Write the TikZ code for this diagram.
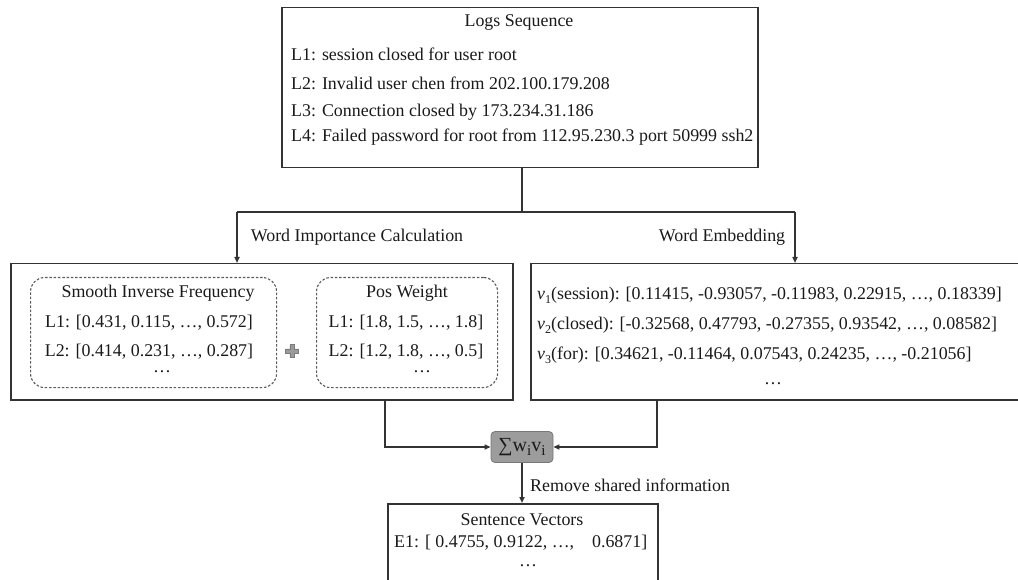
\documentclass[tikz,border=0pt]{standalone}
\usepackage{fontspec}
\setmainfont{Liberation Serif}
\usetikzlibrary{arrows.meta}
\definecolor{linec}{HTML}{333333}
\definecolor{textc}{HTML}{1A1A1A}
\definecolor{sumfill}{HTML}{9C9C9C}
\definecolor{sumline}{HTML}{777777}
\definecolor{plusc}{HTML}{9A9A9A}
\newcommand\lsub[1]{\raisebox{-0.45ex}{\fontsize{12}{12}\selectfont #1}}
\newcommand\isub[1]{\raisebox{-0.5ex}{\fontsize{15}{15}\selectfont #1}}
\begin{document}
\begin{tikzpicture}[x=1pt,y=-1pt,
  every node/.style={text=textc, font=\fontsize{17.9}{20}\selectfont, inner sep=0pt},
  panel/.style={draw=linec, line width=1.5pt, anchor=north west, fill=white},
  dashpanel/.style={draw=linec!80, line width=1.1pt, dash pattern=on 2.5pt off 1.8pt, rounded corners=14pt, anchor=north west},
  txt/.style={anchor=west},
  ctxt/.style={anchor=center},
  conn/.style={draw=linec, line width=1.5pt},
  arr/.style={conn, -{Triangle[length=6pt,width=5pt]}}]
\useasboundingbox (0,0) rectangle (1018,580);

% input logs
\node[panel, minimum width=476pt, minimum height=160pt] (logs) at (281,7) {};
\node[ctxt] (logt) at (519,23) {Logs Sequence};
\node[txt] (l1) at (291,54) {L1: session closed for user root};
\node[txt] (l2) at (291,83) {L2: Invalid user chen from 202.100.179.208};
\node[txt] (l3) at (291,112) {L3: Connection closed by 173.234.31.186};
\node[txt] (l4) at (291,137) {L4: Failed password for root from 112.95.230.3 port 50999 ssh2};

% word importance panel
\node[panel, minimum width=502pt, minimum height=136pt] (imp) at (10,263) {};
\node[dashpanel, minimum width=246pt, minimum height=110pt] (sif) at (30,277) {};
\node[ctxt] (sift) at (158,293) {Smooth Inverse Frequency};
\node[ctxt] (sif1) at (149,323) {L1: [0.431, 0.115, \dots, 0.572]};
\node[ctxt] (sif2) at (149,352) {L2: [0.414, 0.231, \dots, 0.287]};
\node[ctxt] (sif3) at (162,372) {\dots};
\node[dashpanel, minimum width=181pt, minimum height=110pt] (pos) at (316,277) {};
\node[ctxt] (post) at (407,293) {Pos Weight};
\node[ctxt] (pos1) at (406,323) {L1: [1.8, 1.5, \dots, 1.8]};
\node[ctxt] (pos2) at (406,352) {L2: [1.2, 1.8, \dots, 0.5]};
\node[ctxt] (pos3) at (422,372) {\dots};
\node[minimum size=14pt] (plus) at (292,338) {};
\fill[plusc, draw=plusc!80!black, line width=0.3pt]
  ([xshift=-2.2pt,yshift=-6.5pt]plus.center) -- ++(4.4,0) -- ++(0,4.3) -- ++(4.3,0) -- ++(0,4.4)
  -- ++(-4.3,0) -- ++(0,4.3) -- ++(-4.4,0) -- ++(0,-4.3) -- ++(-4.3,0) -- ++(0,-4.4) -- ++(4.3,0) -- cycle;

% word embedding panel
\node[panel, minimum width=520pt, minimum height=136pt] (emb) at (530,263) {};
\node[txt] (v1) at (537,295) {\textit{v}\lsub{1}(session): [0.11415, -0.93057, -0.11983, 0.22915, \dots, 0.18339]};
\node[txt] (v2) at (537,325) {\textit{v}\lsub{2}(closed): [-0.32568, 0.47793, -0.27355, 0.93542, \dots, 0.08582]};
\node[txt] (v3) at (537,355) {\textit{v}\lsub{3}(for): [0.34621, -0.11464, 0.07543, 0.24235, \dots, -0.21056]};
\node[ctxt] (vd) at (773,384) {\dots};

% weighted sum
\node[draw=sumline, fill=sumfill, line width=0.8pt, rounded corners=4pt,
      minimum width=62pt, minimum height=31pt, font=\fontsize{20}{20}\selectfont] (sum) at (522,447) {∑w\isub{i}v\isub{i}};

% sentence vectors
\node[panel, minimum width=270pt, minimum height=100pt] (sent) at (387,503) {};
\node[ctxt] (sentt) at (522,520) {Sentence Vectors};
\node[txt] (e1) at (394,543) {E1: [ 0.4755, 0.9122, \dots,\hspace{0.75em} 0.6871]};
\node[ctxt] (ed) at (528,566) {\dots};

% connectors
\coordinate (split) at (522,212);
\coordinate (lsplit) at (237,212);
\coordinate (rsplit) at (795,212);
\coordinate (ldown) at (385,447);
\coordinate (rdown) at (657,447);
\draw[conn] (logs.south -| split) -- (split);
\draw[conn] (lsplit) -- (rsplit);
\draw[arr] (lsplit) -- (lsplit |- imp.north);
\draw[arr] (rsplit) -- (rsplit |- emb.north);
\node[ctxt] (impl) at (357,237) {Word Importance Calculation};
\node[ctxt] (embl) at (722,237) {Word Embedding};
\draw[arr] (imp.south -| ldown) -- (ldown) -- (sum.west);
\draw[arr] (emb.south -| rdown) -- (rdown) -- (sum.east);
\draw[arr] (sum.south) -- (sum.south |- sent.north);
\node[txt] (reml) at (530,485) {Remove shared information};
\end{tikzpicture}
\end{document}
